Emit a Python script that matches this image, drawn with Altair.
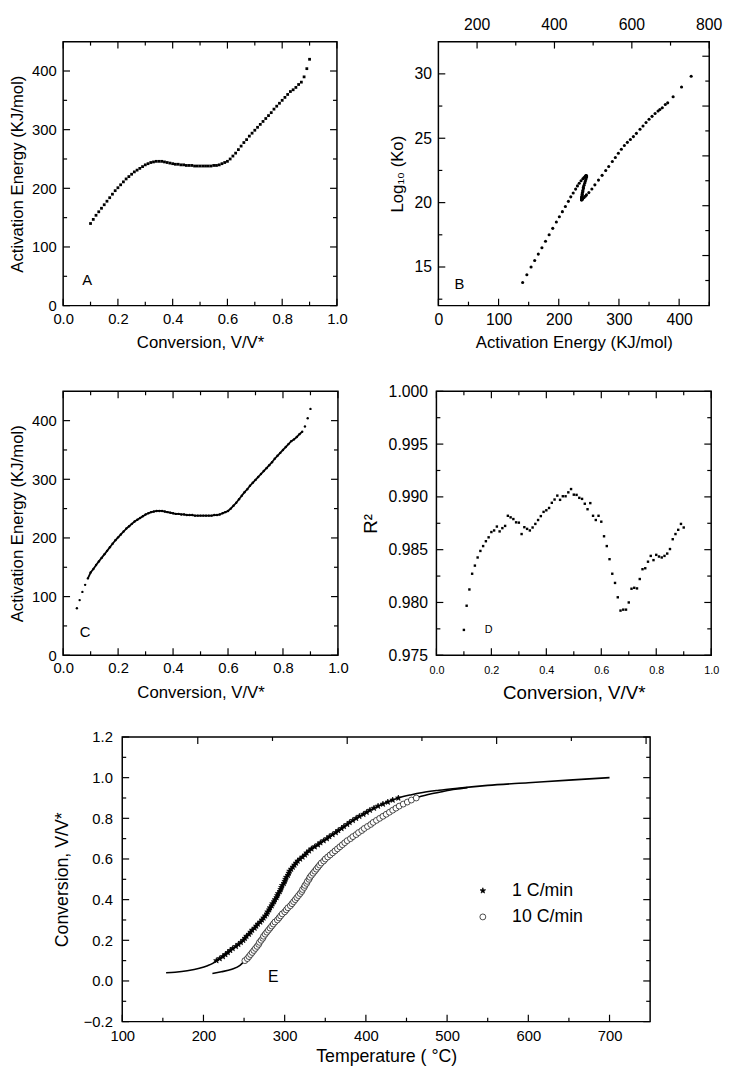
import altair as alt
import pandas as pd

FONT = "Liberation Sans"

# ---------------- Panel A / B : activation energy vs conversion, compensation plot
conv_A = [0.10, 0.11, 0.12, 0.13, 0.14, 0.15, 0.16, 0.17, 0.18, 0.19,
          0.20, 0.21, 0.22, 0.23, 0.24, 0.25, 0.26, 0.27, 0.28, 0.29,
          0.30, 0.31, 0.32, 0.33, 0.34, 0.35, 0.36, 0.37, 0.38, 0.39,
          0.40, 0.41, 0.42, 0.43, 0.44, 0.45, 0.46, 0.47, 0.48, 0.49,
          0.50, 0.51, 0.52, 0.53, 0.54, 0.55, 0.56, 0.57, 0.58, 0.59,
          0.60, 0.61, 0.62, 0.63, 0.64, 0.65, 0.66, 0.67, 0.68, 0.69,
          0.70, 0.71, 0.72, 0.73, 0.74, 0.75, 0.76, 0.77, 0.78, 0.79,
          0.80, 0.81, 0.82, 0.83, 0.84, 0.85, 0.86, 0.87, 0.88, 0.89,
          0.90]
Ea_A = [140, 147, 154, 160, 166, 172, 178, 184, 190, 196,
        201, 206, 211, 216, 220, 224, 228, 231, 234, 237,
        240, 242, 244, 245, 246, 246, 246, 245, 244, 243,
        242, 241, 241, 240, 240, 239, 239, 239, 238, 238,
        238, 238, 238, 238, 238, 239, 239, 240, 242, 244,
        246, 250, 255, 260, 266, 272, 278, 283, 289, 294,
        299, 304, 309, 314, 319, 324, 329, 335, 340, 345,
        350, 355, 360, 365, 368, 372, 377, 381, 390, 404,
        420]
logKo_B = [13.8, 14.4, 15.0, 15.5, 16.0, 16.5, 17.0, 17.5, 18.0, 18.5,
           18.9, 19.3, 19.7, 20.1, 20.45, 20.75, 21.05, 21.3, 21.5, 21.7,
           21.85, 21.95, 22.05, 22.1, 22.1, 22.05, 21.95, 21.8, 21.65, 21.5,
           21.35, 21.2, 21.1, 20.95, 20.85, 20.75, 20.65, 20.55, 20.45, 20.4,
           20.3, 20.25, 20.22, 20.2, 20.22, 20.25, 20.28, 20.33, 20.4, 20.5,
           20.6, 20.78, 21.06, 21.38, 21.75, 22.12, 22.5, 22.81, 23.19, 23.5,
           23.83, 24.14, 24.44, 24.68, 24.9, 25.13, 25.38, 25.7, 25.95, 26.22,
           26.47, 26.7, 26.92, 27.12, 27.23, 27.37, 27.62, 27.75, 28.22, 28.98,
           29.82]

# ---------------- Panel C : finer analysis
conv_C = [0.05, 0.06, 0.07, 0.08, 0.09,
          0.10, 0.11, 0.12, 0.13, 0.14, 0.15, 0.16, 0.17, 0.18, 0.19,
          0.20, 0.21, 0.22, 0.23, 0.24, 0.25, 0.26, 0.27, 0.28, 0.29,
          0.30, 0.31, 0.32, 0.33, 0.34, 0.35, 0.36, 0.37, 0.38, 0.39,
          0.40, 0.41, 0.42, 0.43, 0.44, 0.45, 0.46, 0.47, 0.48, 0.49,
          0.50, 0.51, 0.52, 0.53, 0.54, 0.55, 0.56, 0.57, 0.58, 0.59,
          0.60, 0.61, 0.62, 0.63, 0.64, 0.65, 0.66, 0.67, 0.68, 0.69,
          0.70, 0.71, 0.72, 0.73, 0.74, 0.75, 0.76, 0.77, 0.78, 0.79,
          0.80, 0.81, 0.82, 0.83, 0.84, 0.85, 0.86, 0.87, 0.88, 0.89,
          0.90]
Ea_C = [80, 94, 108, 120, 131,
        141, 147, 154, 160, 166, 172, 178, 184, 190, 196,
        201, 206, 211, 216, 220, 224, 228, 231, 234, 237,
        240, 242, 244, 245, 246, 246, 246, 245, 244, 243,
        242, 241, 241, 240, 240, 239, 239, 239, 238, 238,
        238, 238, 238, 238, 238, 239, 239, 240, 242, 244,
        246, 250, 255, 260, 266, 272, 278, 283, 289, 294,
        299, 304, 309, 314, 319, 324, 329, 335, 340, 345,
        350, 355, 360, 365, 368, 372, 377, 381, 390, 404,
        420]

# ---------------- Panel D : R^2 vs conversion
conv_D = conv_A
R2_D = [0.9774, 0.97969, 0.98123, 0.98272, 0.98349, 0.98426, 0.98488, 0.98534, 0.9858, 0.98617,
        0.98667, 0.98682, 0.98719, 0.98673, 0.98704, 0.98725, 0.98821, 0.98806, 0.9879, 0.98759,
        0.98756, 0.98648, 0.98713, 0.98697, 0.98682, 0.9871, 0.98744, 0.98781, 0.98818, 0.98858,
        0.98873, 0.98895, 0.98944, 0.98975, 0.99012, 0.98972, 0.99006, 0.99006, 0.99043, 0.99074,
        0.99021, 0.99019, 0.98991, 0.98981, 0.98935, 0.98883, 0.98941, 0.98821, 0.98781, 0.98821,
        0.98765, 0.98627, 0.98534, 0.9841, 0.98272, 0.98185, 0.98049, 0.97923, 0.97932, 0.97932,
        0.98, 0.9813, 0.98139, 0.98133, 0.98222, 0.98315, 0.98324, 0.98386, 0.98441, 0.98401,
        0.98451, 0.98435, 0.98426, 0.98441, 0.98463, 0.98506, 0.98599, 0.98648, 0.98688, 0.98744,
        0.9871]

# ---------------- Panel E : conversion vs temperature
conv_E = conv_A
T_1C = [216, 220, 224, 227, 230, 233, 236, 240, 243, 246,
        249, 251, 253, 256, 258, 260, 263, 265, 267, 270,
        272, 274, 276, 278, 279, 281, 282, 284, 285, 287,
        288, 290, 291, 292, 294, 295, 296, 297, 299, 300,
        301, 302, 304, 305, 306, 308, 310, 312, 314, 316,
        319, 322, 325, 327, 330, 333, 337, 341, 344, 348,
        352, 355, 359, 363, 366, 370, 373, 377, 380, 384,
        388, 392, 397, 401, 405, 410, 415, 421, 427, 433,
        440]
T_10C = [251, 254, 256, 258, 260, 262, 264, 266, 268, 269,
         271, 273, 274, 276, 278, 280, 282, 284, 286, 288,
         291, 293, 295, 297, 300, 302, 304, 307, 309, 311,
         313, 315, 317, 319, 321, 322, 324, 325, 327, 328,
         330, 331, 333, 335, 337, 339, 341, 343, 345, 348,
         350, 353, 356, 359, 362, 365, 368, 371, 374, 377,
         381, 384, 388, 391, 395, 398, 402, 406, 409, 413,
         417, 421, 425, 429, 433, 437, 441, 446, 451, 456,
         462]
fit1_T = [154, 165, 180, 195, 205, 212, 216, 233, 249, 260, 272, 281, 288, 295, 301, 308,
          319, 333, 352, 370, 388, 410, 440, 455, 470, 490, 510, 550, 600, 650, 700]
fit1_X = [0.040, 0.043, 0.050, 0.062, 0.075, 0.088, 0.10, 0.15, 0.20, 0.25, 0.30, 0.35, 0.40,
          0.45, 0.50, 0.55, 0.60, 0.65, 0.70, 0.75, 0.80, 0.85, 0.90, 0.915, 0.927, 0.938,
          0.947, 0.962, 0.975, 0.988, 1.0]
fit2_T = [211, 222, 235, 245, 251, 262, 271, 280, 291, 302, 313, 322, 330, 339, 350, 365,
          381, 398, 417, 437, 462, 478, 495, 510, 525]
fit2_X = [0.037, 0.045, 0.058, 0.077, 0.10, 0.15, 0.20, 0.25, 0.30, 0.35, 0.40, 0.45, 0.50,
          0.55, 0.60, 0.65, 0.70, 0.75, 0.80, 0.85, 0.90, 0.918, 0.932, 0.943, 0.951]
series_names = ["1 C/min", "10 C/min"]
# legend entries (placed in the data space of panel E)
legend_T = [544, 544]
legend_X = [0.444, 0.315]
legend_text_T = [580, 580]

# ---------------- panel letters
letters = ["A", "B", "C", "D", "E"]
letter_x = [0.088, 35, 0.08, 0.19, 286]
letter_y = [44, 13.66, 40, 0.97738, 0.021]

# ---------------- tick values
conv_major = [0.0, 0.2, 0.4, 0.6, 0.8, 1.0]
conv_minor = [0.1, 0.3, 0.5, 0.7, 0.9]
ea_major = [0, 100, 200, 300, 400]
ea_minor = [50, 150, 250, 350]
B_top_major = [200, 400, 600, 800]
B_top_minor = [300, 500, 700]
B_y_major = [15, 20, 25, 30]
B_y_minor = [12.5, 17.5, 22.5, 27.5]
B_right_major = [15.89, 19.76, 23.63, 27.5, 31.37]
B_right_minor = [13.95, 17.83, 21.7, 25.57, 29.44]
D_y_major = [0.975, 0.980, 0.985, 0.990, 0.995, 1.000]
D_y_minor = [0.9775, 0.9825, 0.9875, 0.9925, 0.9975]
E_x_major = [100, 200, 300, 400, 500, 600, 700]
E_x_minor = [150, 250, 350, 450, 550, 650]
E_top_major = [193, 377, 561, 745]
E_top_minor = [285, 469, 653]
E_y_major = [-0.2, 0.0, 0.2, 0.4, 0.6, 0.8, 1.0, 1.2]
E_y_minor = [-0.1, 0.1, 0.3, 0.5, 0.7, 0.9, 1.1]

STAR = ("M0,-1L0.235,-0.324L0.951,-0.309L0.38,0.124L0.588,0.809L0,0.4"
        "L-0.588,0.809L-0.38,0.124L-0.951,-0.309L-0.235,-0.324Z")

MAJ, MIN = 7, 4


def sc(lo, hi):
    return alt.Scale(domain=[lo, hi], nice=False, zero=False)


def xrules(vals, scale, H, L, side, axis):
    df = pd.DataFrame({"v": vals})
    if side == "bottom":
        yy, yy2 = alt.value(H), alt.value(H - L)
    else:
        yy, yy2 = alt.value(0), alt.value(L)
    return alt.Chart(df).mark_rule(color="black", strokeWidth=1.2).encode(
        x=alt.X("v:Q", scale=scale, axis=axis), y=yy, y2=yy2)


def yrules(vals, scale, W, L, side, axis):
    df = pd.DataFrame({"v": vals})
    if side == "left":
        xx, xx2 = alt.value(0), alt.value(L)
    else:
        xx, xx2 = alt.value(W), alt.value(W - L)
    return alt.Chart(df).mark_rule(color="black", strokeWidth=1.2).encode(
        y=alt.Y("v:Q", scale=scale, axis=axis), x=xx, x2=xx2)


def frame_ticks(W, H, xs, ys, xax, yax, xmaj, xmin, ymaj, ymin, top_maj=None, top_min=None):
    tmaj = xmaj if top_maj is None else top_maj
    tmin = xmin if top_min is None else top_min
    return [
        xrules(xmaj, xs, H, MAJ, "bottom", xax), xrules(xmin, xs, H, MIN, "bottom", xax),
        xrules(tmaj, xs, H, MAJ, "top", xax), xrules(tmin, xs, H, MIN, "top", xax),
        yrules(ymaj, ys, W, MAJ, "left", yax), yrules(ymin, ys, W, MIN, "left", yax),
        yrules(ymaj, ys, W, MAJ, "right", yax), yrules(ymin, ys, W, MIN, "right", yax),
    ]


def letter(i, xs, ys, xax, yax, size):
    df = pd.DataFrame({"x": [letter_x[i]], "y": [letter_y[i]], "t": [letters[i]]})
    return alt.Chart(df).mark_text(fontSize=size, color="black", font=FONT).encode(
        x=alt.X("x:Q", scale=xs, axis=xax), y=alt.Y("y:Q", scale=ys, axis=yax), text="t:N")


def axis(title, values, fmt, lfs, tfs, lp, tp):
    return alt.Axis(title=title, values=values, format=fmt, labelFontSize=lfs,
                    titleFontSize=tfs, labelPadding=lp, titlePadding=tp)


H4 = 268  # height of the four small panels

# ---------------- Panel A
WA = 278
xsA, ysA = sc(0, 1), sc(0, 450)
xaxA = axis("Conversion, V/V*", conv_major, ".1f", 15, 17, 6, 9)
yaxA = axis("Activation Energy (KJ/mol)", ea_major, "d", 15, 17, 7, 5)
dfA = pd.DataFrame({"conv": conv_A, "Ea": Ea_A})
mainA = alt.Chart(dfA).mark_square(size=8, color="black", opacity=1).encode(
    x=alt.X("conv:Q", scale=xsA, axis=xaxA), y=alt.Y("Ea:Q", scale=ysA, axis=yaxA))
panelA = alt.layer(mainA, *frame_ticks(WA, H4, xsA, ysA, xaxA, yaxA, conv_major, conv_minor, ea_major, ea_minor),
                   letter(0, xsA, ysA, xaxA, yaxA, 15)).properties(width=WA, height=H4)

# ---------------- Panel B
WB = 275
xsB, ysB, xsTop = sc(0, 450), sc(12, 32.5), sc(100, 800)
xaxB = axis("Activation Energy (KJ/mol)", ea_major, "d", 16, 17, 6, 8)
yaxB = axis("Log\u2081\u2080 (Ko)", B_y_major, "d", 16, 17, 7, 8)
dfB = pd.DataFrame({"Ea": Ea_A, "logKo": logKo_B})
mainB = alt.Chart(dfB).mark_circle(size=10, color="black", opacity=1).encode(
    x=alt.X("Ea:Q", scale=xsB, axis=xaxB), y=alt.Y("logKo:Q", scale=ysB, axis=yaxB))
topLabels = alt.Chart(pd.DataFrame({"v": B_top_major})).mark_text(
    baseline="bottom", fontSize=16, color="black", font=FONT).encode(
    x=alt.X("v:Q", scale=xsTop, axis=None), y=alt.value(-9), text=alt.Text("v:Q", format="d"))
panelB = alt.layer(
    mainB,
    xrules(ea_major, xsB, H4, MAJ, "bottom", None), xrules(ea_minor + [450], xsB, H4, MIN, "bottom", None),
    xrules(B_top_major, xsTop, H4, MAJ, "top", None), xrules(B_top_minor, xsTop, H4, MIN, "top", None),
    topLabels,
    yrules(B_y_major, ysB, WB, MAJ, "left", yaxB), yrules(B_y_minor, ysB, WB, MIN, "left", yaxB),
    yrules(B_right_major, ysB, WB, MAJ, "right", yaxB), yrules(B_right_minor, ysB, WB, MIN, "right", yaxB),
    letter(1, xsB, ysB, None, yaxB, 15),
).resolve_scale(x="independent").properties(width=WB, height=H4)

# ---------------- Panel C
WC = 279
xsC, ysC = sc(0, 1), sc(0, 450)
xaxC = axis("Conversion, V/V*", conv_major, ".1f", 15, 17, 6, 9)
yaxC = axis("Activation Energy (KJ/mol)", ea_major, "d", 15, 17, 7, 5)
dfC = pd.DataFrame({"conv": conv_C, "Ea": Ea_C})
lineC = alt.Chart(dfC).transform_filter("datum.conv >= 0.09 && datum.conv <= 0.87").mark_line(
    color="black", strokeWidth=1.8).encode(
    x=alt.X("conv:Q", scale=xsC, axis=xaxC), y=alt.Y("Ea:Q", scale=ysC, axis=yaxC))
ptsC = alt.Chart(dfC).mark_circle(size=6, color="black", opacity=1).encode(
    x=alt.X("conv:Q", scale=xsC, axis=xaxC), y=alt.Y("Ea:Q", scale=ysC, axis=yaxC))
panelC = alt.layer(lineC, ptsC, *frame_ticks(WC, H4, xsC, ysC, xaxC, yaxC, conv_major, conv_minor, ea_major, ea_minor),
                   letter(2, xsC, ysC, xaxC, yaxC, 15)).properties(width=WC, height=H4)

# ---------------- Panel D
WD = 279
xsD, ysD = sc(0, 1), sc(0.975, 1.0)
xaxD = axis("Conversion, V/V*", conv_major, ".1f", 11, 19, 10, 8)
yaxD = axis("R\u00b2", D_y_major, ".3f", 16, 19, 9, 8)
dfD = pd.DataFrame({"conv": conv_D, "R2": R2_D})
mainD = alt.Chart(dfD).mark_square(size=6, color="black", opacity=1).encode(
    x=alt.X("conv:Q", scale=xsD, axis=xaxD), y=alt.Y("R2:Q", scale=ysD, axis=yaxD))
panelD = alt.layer(mainD, *frame_ticks(WD, H4, xsD, ysD, xaxD, yaxD, conv_major, conv_minor, D_y_major, D_y_minor),
                   letter(3, xsD, ysD, xaxD, yaxD, 11)).properties(width=WD, height=H4)

# ---------------- Panel E
WE, HE = 536, 289
xsE, ysE = sc(100, 750), sc(-0.2, 1.2)
xaxE = axis("Temperature ( \u00b0C)", E_x_major, "d", 15, 18, 7, 5)
yaxE = axis("Conversion, V/V*", E_y_major, ".1f", 15, 18, 10, 12)
dfFit1 = pd.DataFrame({"T": fit1_T, "X": fit1_X})
dfFit2 = pd.DataFrame({"T": fit2_T, "X": fit2_X})
dfPts = pd.concat([
    pd.DataFrame({"T": T_1C, "X": conv_E, "series": series_names[0]}),
    pd.DataFrame({"T": T_10C, "X": conv_E, "series": series_names[1]}),
])
dfLeg = pd.DataFrame({"T": legend_T, "X": legend_X, "TT": legend_text_T, "series": series_names})
shape_scale = alt.Scale(domain=series_names, range=[STAR, "circle"])
fill_scale = alt.Scale(domain=series_names, range=["black", "white"])
fit1 = alt.Chart(dfFit1).mark_line(color="black", strokeWidth=1.6, interpolate="monotone").encode(
    x=alt.X("T:Q", scale=xsE, axis=xaxE), y=alt.Y("X:Q", scale=ysE, axis=yaxE))
fit2 = alt.Chart(dfFit2).mark_line(color="black", strokeWidth=1.6, interpolate="monotone").encode(
    x=alt.X("T:Q", scale=xsE, axis=xaxE), y=alt.Y("X:Q", scale=ysE, axis=yaxE))
ptsE = alt.Chart(dfPts).mark_point(filled=True, size=36, stroke="black", strokeWidth=0.7, opacity=1).encode(
    x=alt.X("T:Q", scale=xsE, axis=xaxE), y=alt.Y("X:Q", scale=ysE, axis=yaxE),
    shape=alt.Shape("series:N", scale=shape_scale, legend=None),
    fill=alt.Fill("series:N", scale=fill_scale, legend=None))
legPts = alt.Chart(dfLeg).mark_point(filled=True, size=36, stroke="black", strokeWidth=0.7, opacity=1).encode(
    x=alt.X("T:Q", scale=xsE, axis=xaxE), y=alt.Y("X:Q", scale=ysE, axis=yaxE),
    shape=alt.Shape("series:N", scale=shape_scale, legend=None),
    fill=alt.Fill("series:N", scale=fill_scale, legend=None))
legTxt = alt.Chart(dfLeg).mark_text(align="left", baseline="middle", fontSize=18, color="black",
                                    font=FONT).encode(
    x=alt.X("TT:Q", scale=xsE, axis=xaxE), y=alt.Y("X:Q", scale=ysE, axis=yaxE), text="series:N")
panelE = alt.layer(
    fit1, fit2, ptsE, legPts, legTxt,
    *frame_ticks(WE, HE, xsE, ysE, xaxE, yaxE, E_x_major, E_x_minor, E_y_major, E_y_minor,
                 E_top_major, E_top_minor),
    letter(4, xsE, ysE, xaxE, yaxE, 16),
).properties(width=WE, height=HE)

spacer = alt.Chart(pd.DataFrame({"v": [0]})).mark_point(opacity=0).encode(
    x=alt.value(0), y=alt.value(0)).properties(
    width=50, height=10, view=alt.ViewBackground(stroke="transparent"))

row1 = alt.hconcat(panelA, panelB, spacing=103, bounds="flush")
row2 = alt.hconcat(panelC, panelD, spacing=100, bounds="flush")
row3 = alt.hconcat(spacer, panelE, spacing=10, bounds="flush")
top = alt.vconcat(row1, row2, spacing=31)
chart = alt.vconcat(top, row3, spacing=26).properties(padding=0)

chart = chart.configure(font=FONT).configure_view(
    stroke="black", strokeWidth=1.5
).configure_axis(
    grid=False, domain=False, ticks=False, labelColor="black", titleColor="black",
    titleFontWeight="normal", labelFlush=False, labelOverlap=False, labelBound=False,
    labelFont=FONT, titleFont=FONT
)

chart.save("out.html", embed_options={"renderer": "svg", "actions": False})
